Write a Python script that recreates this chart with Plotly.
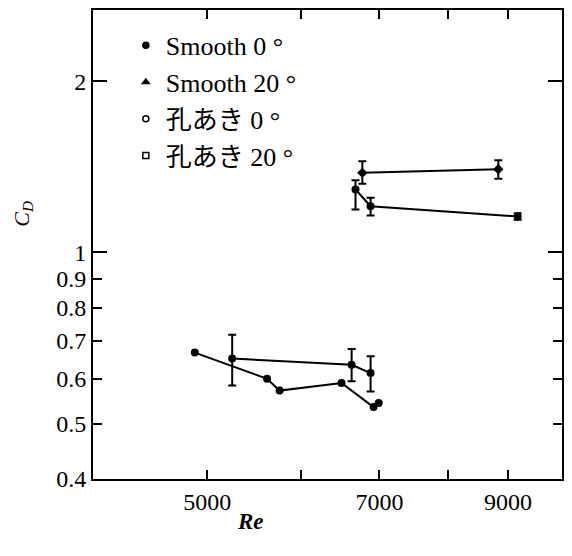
import plotly.graph_objects as go
import numpy as np

# ---- data ----
smooth0_re = [4880, 5620, 5760, 6500, 6920, 6990]
smooth0_cd = [0.667, 0.600, 0.572, 0.590, 0.535, 0.544]

hole0_re = [5250, 6630, 6880]
hole0_cd = [0.651, 0.635, 0.614]
hole0_up = [0.066, 0.042, 0.043]
hole0_dn = [0.067, 0.041, 0.044]

smooth20_re = [6770, 8830]
smooth20_cd = [1.38, 1.40]
smooth20_up = [0.067, 0.052]
smooth20_dn = [0.060, 0.052]

hole20_re = [6680, 6880, 9170]
hole20_cd = [1.29, 1.206, 1.157]
hole20_up = [0.05, 0.042, 0.015]
hole20_dn = [0.10, 0.045, 0.015]

legend_names = ["Smooth 0 °", "Smooth 20 °", "孔あき 0 °", "孔あき 20 °"]
legend_symbols = ["circle", "triangle-up", "circle-open", "square-open"]

x_tickvals = [5000, 7000, 9000]
x_ticktext = ["5000", "7000", "9000"]
x_minorvals = [6000, 8000]
y_tickvals = [0.4, 0.5, 0.6, 0.7, 0.8, 0.9, 1, 2]
y_ticktext = ["0.4", "0.5", "0.6", "0.7", "0.8", "0.9", "1", "2"]

FONT = "Liberation Serif, Noto Sans CJK JP, serif"

fig = go.Figure()

line = dict(color="black", width=2)
mk = dict(color="black", size=8, symbol="circle")
eb = dict(type="data", symmetric=False, color="black", thickness=2, width=4)

fig.add_trace(go.Scatter(x=smooth0_re, y=smooth0_cd, mode="lines+markers",
                         line=line, marker=mk, showlegend=False))
fig.add_trace(go.Scatter(x=hole0_re, y=hole0_cd, mode="lines+markers",
                         line=line, marker=mk, showlegend=False,
                         error_y=dict(eb, array=hole0_up, arrayminus=hole0_dn)))
fig.add_trace(go.Scatter(x=smooth20_re, y=smooth20_cd, mode="lines+markers",
                         line=line, marker=dict(color="black", size=8, symbol="diamond"),
                         showlegend=False,
                         error_y=dict(eb, array=smooth20_up, arrayminus=smooth20_dn)))
fig.add_trace(go.Scatter(x=hole20_re, y=hole20_cd, mode="lines+markers",
                         line=line, marker=mk, showlegend=False,
                         error_y=dict(eb, array=hole20_up, arrayminus=hole20_dn)))

# legend-only entries
for i, (name, sym) in enumerate(zip(legend_names, legend_symbols)):
    fig.add_trace(go.Scatter(x=[None], y=[None], mode="markers", name=name,
                             legendgroup=f"g{i}",
                             marker=dict(color="black", size=6, symbol=sym,
                                         line=dict(color="black", width=1.5))))

axis_common = dict(showline=True, linecolor="black", linewidth=2, mirror="ticks",
                   ticks="inside", tickcolor="black", tickwidth=2, ticklen=9,
                   showgrid=False, zeroline=False, automargin=False,
                   tickfont=dict(family=FONT, size=24, color="black"))

fig.update_layout(
    width=572, height=556,
    margin=dict(l=85, r=18, t=2, b=85),
    paper_bgcolor="white", plot_bgcolor="white",
    xaxis=dict(type="log", range=[np.log10(4000), 4.0],
               tickmode="array", tickvals=x_tickvals, ticktext=x_ticktext,
               minor=dict(tickmode="array", tickvals=x_minorvals, ticklen=9,
                          tickwidth=2, tickcolor="black", ticks="inside"),
               **axis_common),
    yaxis=dict(type="log", range=[np.log10(0.4), 0.426],
               tickmode="array", tickvals=y_tickvals, ticktext=y_ticktext,
               minor=dict(tickmode="array", tickvals=[1, 2], ticklen=14,
                          tickwidth=2, tickcolor="black", ticks="inside"),
               **axis_common),
    legend=dict(x=0.07, y=0.975, xanchor="left", yanchor="top",
                bgcolor="rgba(0,0,0,0)", borderwidth=0,
                font=dict(family=FONT, size=26, color="black"),
                tracegroupgap=0, itemwidth=30),
    annotations=[
        dict(text="<b><i>Re</i></b>", xref="paper", yref="paper",
             x=0.335, y=-0.09, xanchor="center", yanchor="middle", showarrow=False,
             font=dict(family=FONT, size=23, color="black")),
        dict(text="<i>C<sub>D</sub></i>", xref="paper", yref="paper",
             x=-0.15, y=0.565, xanchor="center", yanchor="middle", showarrow=False,
             textangle=-90, font=dict(family=FONT, size=22, color="black")),
    ],
)

fig.write_html("out.html")
